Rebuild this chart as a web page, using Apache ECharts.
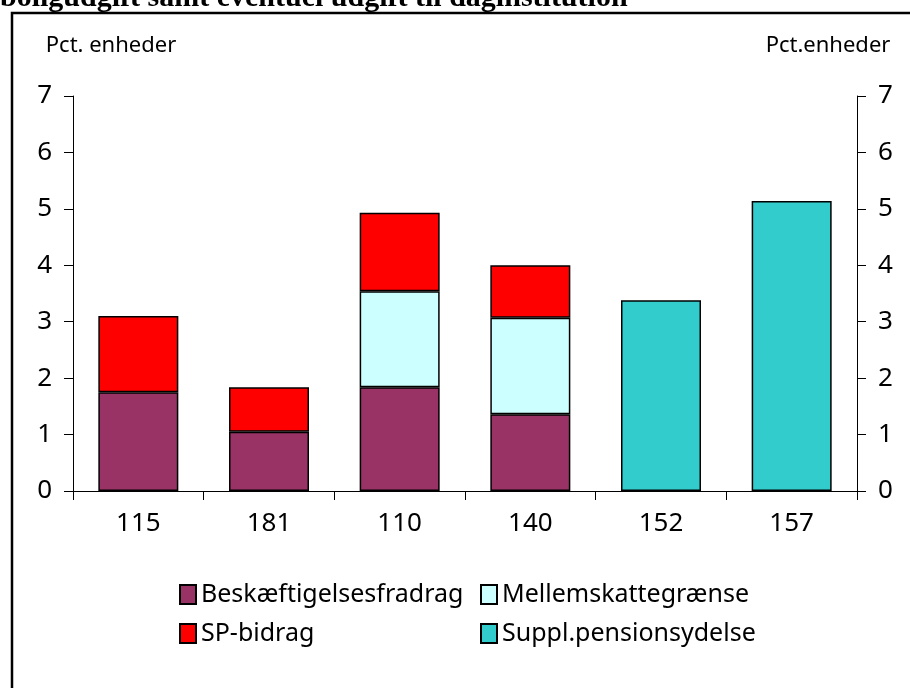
<!DOCTYPE html>
<html>
<head>
<meta charset="utf-8">
<script src="https://cdn.jsdelivr.net/npm/echarts@6/dist/echarts.min.js"></script>
<style>
  html, body { margin: 0; padding: 0; background: #fff; }
  #chart { width: 910px; height: 688px; }
</style>
</head>
<body>
<div id="chart"></div>
<script>
const categories = ["115", "181", "110", "140", "152", "157"];
const beskaeftigelse = [1.75, 1.05, 1.84, 1.36, "-", "-"];
const mellemskat = ["-", "-", 1.70, 1.71, "-", "-"];
const spBidrag = [1.35, 0.79, 1.39, 0.93, "-", "-"];
const supplPension = ["-", "-", "-", "-", 3.38, 5.14];
const yTicks = [0, 1, 2, 3, 4, 5, 6, 7];

const font = "Noto Sans";

function barSeries(name, data, color) {
  return {
    name: name,
    type: "bar",
    stack: "total",
    barWidth: 80,
    data: data,
    itemStyle: { color: color, borderColor: "#000", borderWidth: 1.5 },
  };
}

function valueAxis(pos, name, pad) {
  return {
    type: "value",
    position: pos,
    min: yTicks[0],
    max: yTicks[yTicks.length - 1],
    interval: 1,
    name: name,
    nameLocation: "end",
    nameGap: 50,
    nameTextStyle: {
      fontFamily: font, fontSize: 22, color: "#000",
      align: "center", verticalAlign: "middle", padding: pad,
    },
    axisLine: { show: true, lineStyle: { color: "#000", width: 1 } },
    axisTick: { show: true, length: 9, lineStyle: { color: "#000" } },
    axisLabel: { fontFamily: font, fontSize: 26, color: "#000", margin: 21 },
    splitLine: { show: false },
  };
}

const chart = echarts.init(document.getElementById("chart"));
chart.setOption({
  animation: false,
  grid: { left: 73, right: 53, top: 96, bottom: 197 },
  graphic: [
    {
      type: "rect",
      shape: { x: 12, y: 13, width: 1000, height: 700 },
      style: { fill: "none", stroke: "#000", lineWidth: 2.5 },
    },
    {
      type: "text",
      x: 0,
      y: -17,
      style: {
        text: "boligudgift samt eventuel udgift til daginstitution",
        font: "bold 30px 'Liberation Serif'",
        fill: "#000",
        verticalAlign: "top",
      },
    },
  ],
  legend: [
    {
      data: ["Beskæftigelsesfradrag", "SP-bidrag"],
      orient: "vertical",
      left: 174,
      top: 577,
      itemWidth: 16,
      itemHeight: 19,
      itemGap: 14,
      icon: "rect",
      textStyle: { fontFamily: font, fontSize: 25, color: "#000" },
    },
    {
      data: ["Mellemskattegrænse", "Suppl.pensionsydelse"],
      orient: "vertical",
      left: 475,
      top: 577,
      itemWidth: 16,
      itemHeight: 19,
      itemGap: 14,
      icon: "rect",
      textStyle: { fontFamily: font, fontSize: 25, color: "#000" },
    },
  ],
  xAxis: {
    type: "category",
    data: categories,
    axisLine: { lineStyle: { color: "#000", width: 1 } },
    axisTick: { show: true, length: 9, lineStyle: { color: "#000" } },
    axisLabel: { fontFamily: font, fontSize: 26, color: "#000", margin: 20 },
  },
  yAxis: [
    valueAxis("left", "Pct. enheder", [0, 0, 0, 76]),
    valueAxis("right", "Pct.enheder", [0, 58, 0, 0]),
  ],
  series: [
    barSeries("Beskæftigelsesfradrag", beskaeftigelse, "#993366"),
    barSeries("Mellemskattegrænse", mellemskat, "#CCFFFF"),
    barSeries("SP-bidrag", spBidrag, "#FF0000"),
    barSeries("Suppl.pensionsydelse", supplPension, "#33CCCC"),
  ],
});
</script>
</body>
</html>
